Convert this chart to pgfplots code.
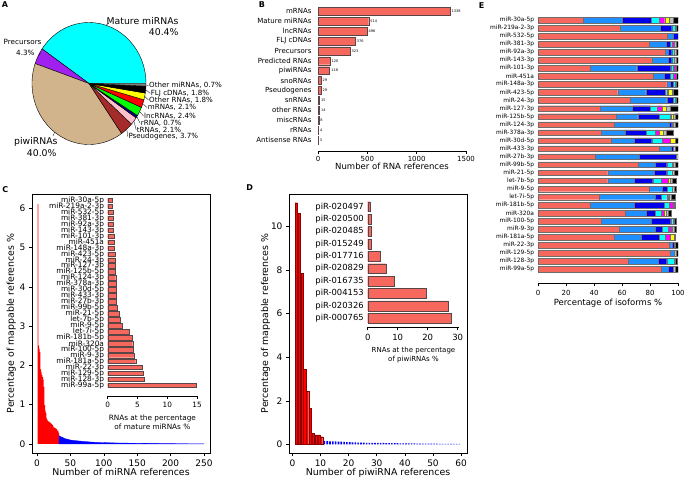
\documentclass[border=0pt]{standalone}
\usepackage{fontspec}
\setmainfont{DejaVu Sans}
\usepackage{pgfplots}
\usepackage{pgfplotstable}
\pgfplotsset{compat=1.18}
\newcommand{\fs}[1]{\fontsize{#1}{#1}\selectfont}
\definecolor{salmon}{RGB}{246,104,94}
\definecolor{baredge}{RGB}{90,70,70}
\definecolor{eedge}{RGB}{110,110,110}
\definecolor{piecyan}{RGB}{0,255,255}
\definecolor{piepurple}{RGB}{160,32,240}
\definecolor{pietan}{RGB}{210,180,140}
\definecolor{piebrown}{RGB}{165,42,42}
\definecolor{piepink}{RGB}{255,192,203}
\definecolor{pienavy}{RGB}{0,0,128}
\definecolor{piegreen}{RGB}{0,255,0}
\definecolor{piered}{RGB}{255,0,0}
\definecolor{pieyellow}{RGB}{255,255,0}
\definecolor{piegray}{RGB}{128,128,128}
\definecolor{edodger}{RGB}{30,144,255}
\definecolor{eblue}{RGB}{0,0,235}
\definecolor{ecyan}{RGB}{0,255,255}
\definecolor{emag}{RGB}{255,0,255}
\definecolor{eyel}{RGB}{255,255,0}
\definecolor{egray}{RGB}{190,190,190}
\pgfplotsset{
  every axis/.append style={scale only axis, anchor=south west,
    /pgf/number format/assume math mode=true, /pgf/number format/1000 sep={},
    tick align=outside, major tick length=3pt, axis line style={-},
    every tick/.style={black, line width=0.5pt}},
}
\pgfplotstableread{
y s1 s2 s3 s4 s5 s6 s7 s8
31 32 28 21 5.5 4 3.5 2.5 3.5
30 58.6 28.5 8.4 2.4 0 0 1 1.1
29 92.5 4 3.5 0 0 0 0 0
28 79.5 12 3 1.5 1 0 1.5 1.5
27 90.7 2.4 2.4 1.5 0 0 1.5 1.5
26 81.7 11.4 2.4 1.6 0 0 1.4 1.5
25 37.1 33.4 24.3 1.9 1 0 1 1.3
24 82.4 7.8 4.1 2.4 2.3 0 0 1
23 91.9 2.4 2.4 1 0 0 1 1.3
22 56.9 20 13.8 1.2 1.2 2.4 1.2 3.3
21 65.7 26.2 4.8 1 0 0 1 1.3
20 44.3 23.3 12.4 4.8 4 2.6 2.9 5.7
19 55.7 15.5 15.2 7.9 1 1 1.5 2.2
18 54.3 39.5 1.7 1.2 0 0 1.5 1.8
17 45 17.1 15 6.5 3.1 2.8 2 5
16 52.1 16.5 12.6 7.8 5.3 3.6 0 2.1
15 86.7 8.3 1.7 0 0 0 1.5 1.8
14 40.7 31.7 26.2 0 0 0 1.4 0
13 71.7 12.3 7.9 3.6 1.2 0 1.5 1.8
12 49.8 33.1 9 3.6 0 0 2 2.5
11 49.8 18.8 13.3 6.4 4.8 1.2 1.2 3
10 79.5 9.5 3.6 3.4 0 0 1.5 1.5
9 43.6 40 4.7 3.6 1.2 0.8 1.2 3
8 37.6 31.2 21.2 3.8 2.9 0 0.8 0.5
7 62.1 15 6.5 4.7 1.9 1.2 1.7 1.9
6 45 35.7 14.1 1.4 0 0 1.3 1.5
5 57.9 25.7 5.4 4.1 1.9 1 1 1.5
4 54.5 19.5 12.7 4 3.6 2.8 0.5 0.5
3 93.6 1.9 1.7 0 0 0 1 1.8
2 94.3 3.1 0 0 0 0 1 1.6
1 64.5 21.4 6 5.2 0 0 1 1.4
0 87.9 5.2 3.6 0 0 0 1.5 1.8
}\Edata
\begin{document}
\begin{tikzpicture}[x=1pt,y=1pt]
\useasboundingbox[fill=white] (0,0) rectangle (685,-478);
\coordinate (posB) at (318,-150.8);
\coordinate (posC) at (32,-453);
\coordinate (posCi) at (107.7,-395.7);
\coordinate (posD) at (289,-453);
\coordinate (posDi) at (367.7,-327.3);
\coordinate (posE) at (538,-283.3);
% panel letters
\node[font=\bfseries\fs{8}] at (5,-4.5) {A};
\node[font=\bfseries\fs{8}] at (262,-5) {B};
\node[font=\bfseries\fs{8}] at (5.3,-189.5) {C};
\node[font=\bfseries\fs{8}] at (249.7,-188) {D};
\node[font=\bfseries\fs{8}] at (481.5,-6) {E};
% ---------------- A: pie
\begin{scope}[shift={(89,-83.5)}]
\def\cum{0}
\foreach \v/\c in {40.4/piecyan,4.3/piepurple,40.0/pietan,3.7/piebrown,2.1/piepink,0.7/pienavy,2.4/piegreen,2.1/piered,1.8/pieyellow,1.8/black,0.7/piegray}{
  \pgfmathsetmacro{\a}{\cum*3.6}
  \pgfmathsetmacro{\b}{(\cum+\v)*3.6}
  \filldraw[fill=\c, draw=black, line width=0.4pt] (0,0) -- (\a:57 and 61) arc[start angle=\a, end angle=\b, x radius=57, y radius=61] -- cycle;
  \pgfmathsetmacro{\newcum}{\cum+\v}
  \global\let\cum\newcum
}
\end{scope}
\begin{scope}[line width=0.3pt]
\draw (106,-25.3) -- (109,-23);
\draw (38.1,-56) -- (40.5,-53);
\draw (54.6,-132.2) -- (53,-136);
\draw (146,-84.9) -- (148.5,-85.7);
\draw (145.7,-89.7) -- (150.2,-93.3);
\draw (144.7,-96.4) -- (148.5,-100);
\draw (142.8,-103.6) -- (147.2,-107.7);
\draw (139.6,-111.6) -- (143.5,-116);
\draw (136.8,-116.7) -- (140.2,-123.3);
\draw (133.9,-121.1) -- (136.2,-130);
\draw (126.8,-129.2) -- (127.8,-136.7);
\end{scope}
\node[font=\fs{9.3}, anchor=east] at (182,-21) {Mature miRNAs};
\node[font=\fs{9.3}, anchor=east] at (182,-32) {40.4\%};
\node[font=\fs{7.2}, anchor=east] at (45,-42) {Precursors};
\node[font=\fs{7.2}, anchor=east] at (38,-52.5) {4.3\%};
\node[font=\fs{9.3}, anchor=east] at (61,-142) {piwiRNAs};
\node[font=\fs{9.3}, anchor=east] at (60,-153) {40.0\%};
\begin{scope}[every node/.style={font=\fs{7.1}, anchor=west, inner sep=0pt}]
\node at (149,-85.7) {Other miRNAs, 0.7\%};
\node at (150.7,-93.3) {FLJ cDNAs, 1.8\%};
\node at (149,-100) {Other RNAs, 1.8\%};
\node at (147.7,-107.7) {mRNAs, 2.1\%};
\node at (144,-116) {lncRNAs, 2.4\%};
\node at (140.7,-123.3) {rRNA, 0.7\%};
\node at (136.7,-130) {tRNAs, 2.1\%};
\node at (128.3,-136.7) {Pseudogenes, 3.7\%};
\end{scope}
% ---------------- B
\begin{axis}[at={(posB)}, width=148pt, height=145.5pt,
  xmin=0, xmax=1500, ymin=-1.09, ymax=13.6,
  axis x line*=bottom, axis y line*=left, y axis line style={draw=none},
  xtick={0,500,1000,1500}, ytick={0,...,13}, ytick style={draw=none},
  yticklabels={Antisense RNAs,rRNAs,miscRNAs,other RNAs,snRNAs,Pseudogenes,snoRNAs,piwiRNAs,Predicted RNAs,Precursors,FLJ cDNAs,lncRNAs,Mature miRNAs,mRNAs},
  yticklabel style={font=\fs{7}},
  xticklabel style={font=\fs{7}, yshift=1.5pt},
  xlabel={Number of RNA references}, xlabel style={font=\fs{8.5}, yshift=5pt}]
\addplot[xbar, bar width=7.9pt, fill=salmon, draw=baredge, line width=0.4pt,
  point meta=x, nodes near coords,
  nodes near coords style={font=\fs{3.5}, anchor=west, inner sep=1.5pt}]
  coordinates {(3,0) (4,1) (8,2) (14,3) (15,4) (29,5) (29,6) (118,7) (120,8) (323,9) (376,10) (496,11) (514,12) (1338,13)};
\end{axis}
% ---------------- C main
\begin{axis}[at={(posC)}, width=178pt, height=259pt,
  xmin=-7.5, xmax=259, ymin=-0.23, ymax=6.36,
  xtick={0,50,...,250}, ytick={0,1,...,6}, tick pos=left,
  tick label style={font=\fs{9}},
  xlabel={Number of miRNA references}, ylabel={Percentage of mappable references \%},
  label style={font=\fs{9.4}}, xlabel style={yshift=4.5pt}, ylabel shift=-3pt]
\addplot[fill=red, draw=none, const plot] coordinates {
(1,6.1) (2,2.5) (3,2.42) (4,2.34) (5,1.9) (6,1.82) (7,1.76) (8,1.7) (9,1.64) (10,1.45)
(11,0.99) (12,0.85) (13,0.79) (14,0.65) (15,0.61) (16,0.59) (17,0.57) (18,0.57) (19,0.55) (20,0.53)
(21,0.51) (22,0.51) (23,0.48) (24,0.44) (25,0.42) (26,0.41) (27,0.40) (28,0.39) (29,0.38) (30,0.34)
(31,0.34) (32,0.29) (33,0.29)} \closedcycle;
\addplot[fill=blue, draw=blue, line width=0.3pt] coordinates {
(33,0.21) (34,0.2) (35,0.19) (36,0.18) (38,0.17) (40,0.15) (43,0.13) (46,0.12) (50,0.1) (55,0.09)
(60,0.08) (70,0.065) (80,0.05) (90,0.04) (100,0.035) (120,0.025) (140,0.02) (160,0.015) (180,0.012)
(200,0.009) (220,0.006) (240,0.004) (250,0.002)} \closedcycle;
\end{axis}
% ---------------- C inset
\begin{axis}[at={(posCi)}, width=89.4pt, height=198.4pt,
  xmin=0, xmax=15, ymin=-1.74, ymax=31.5,
  axis x line*=bottom, axis y line*=left, y axis line style={draw=none},
  ytick={0,...,31}, ytick style={draw=none},
  yticklabels={miR-99a-5p,miR-128-3p,miR-129-5p,miR-22-3p,miR-181a-5p,miR-9-3p,miR-100-5p,miR-320a,miR-181b-5p,let-7i-5p,miR-9-5p,let-7b-5p,miR-21-5p,miR-99b-5p,miR-27b-3p,miR-433-3p,miR-30d-5p,miR-378a-3p,miR-124-3p,miR-125b-5p,miR-127-3p,miR-24-3p,miR-423-5p,miR-148a-3p,miR-451a,miR-101-3p,miR-143-3p,miR-92a-3p,miR-381-3p,miR-532-5p,miR-219a-2-3p,miR-30a-5p},
  yticklabel style={font=\fs{7.4}, inner sep=0.5pt},
  xtick={0,5,10,15}, xticklabel style={font=\fs{7.3}},
  xlabel={RNAs at the percentage\\of mature miRNAs \%},
  xlabel style={font=\fontsize{7.3}{9}\selectfont, align=center}]
\addplot[xbar, bar width=4.5pt, fill=salmon, draw=baredge, line width=0.4pt] coordinates {
(14.8,0) (6.2,1) (6.0,2) (5.8,3) (4.7,4) (4.5,5) (4.35,6) (4.2,7) (4.05,8) (3.6,9)
(2.45,10) (2.1,11) (1.95,12) (1.6,13) (1.5,14) (1.45,15) (1.4,16) (1.4,17) (1.35,18) (1.3,19)
(1.25,20) (1.25,21) (1.2,22) (1.1,23) (1.05,24) (1.02,25) (1.0,26) (0.97,27) (0.95,28) (0.85,29)
(0.83,30) (0.72,31)};
\end{axis}
% ---------------- D main
\begin{axis}[at={(posD)}, width=178pt, height=259pt,
  xmin=-1.2, xmax=62.1, ymin=-0.4, ymax=11.5,
  xtick={0,10,...,60}, ytick={0,2,...,10}, tick pos=left,
  tick label style={font=\fs{9}},
  xlabel={Number of piwiRNA references}, ylabel={Percentage of mappable references \%},
  label style={font=\fs{9.4}}, xlabel style={yshift=4.5pt}, ylabel shift=-6pt]
\addplot[ybar, bar width=2.25pt, bar shift=1.1pt, fill=red, draw=red!55!black, line width=0.3pt] coordinates {
(1,11.1) (2,10.6) (3,7.85) (4,3.45) (5,2.42) (6,1.65) (7,0.5) (8,0.43) (9,0.43) (10,0.35)};
\addplot[ybar, bar width=1.6pt, bar shift=1.1pt, fill=blue, draw=none] coordinates {
(11,0.16) (12,0.15) (13,0.14) (14,0.14) (15,0.13) (16,0.12) (17,0.12) (18,0.11) (19,0.1) (20,0.1)
(21,0.09) (22,0.09) (23,0.08) (24,0.08) (25,0.08) (26,0.07) (27,0.07) (28,0.07) (29,0.06) (30,0.06)
(31,0.06) (32,0.06) (33,0.05) (34,0.05) (35,0.05) (36,0.05) (37,0.05) (38,0.04) (39,0.04) (40,0.04)
(41,0.04) (42,0.04) (43,0.04) (44,0.03) (45,0.03) (46,0.03) (47,0.03) (48,0.03) (49,0.03) (50,0.03)
(51,0.03) (52,0.02) (53,0.02) (54,0.02) (55,0.02) (56,0.02) (57,0.02) (58,0.02) (59,0.02)};
\end{axis}
% ---------------- D inset
\begin{axis}[at={(posDi)}, width=91.5pt, height=126.8pt,
  xmin=0, xmax=30.5, ymin=-0.73, ymax=9.5,
  axis x line*=bottom, axis y line*=left, y axis line style={draw=none},
  ytick={0,...,9}, ytick style={draw=none},
  yticklabels={piR-000765,piR-020326,piR-004153,piR-016735,piR-020829,piR-017716,piR-015249,piR-020485,piR-020500,piR-020497},
  yticklabel style={font=\fs{8.4}, inner sep=0.8pt},
  xtick={0,10,20,30}, xticklabel style={font=\fs{8.5}},
  xlabel={RNAs at the percentage\\of piwiRNAs \%},
  xlabel style={font=\fontsize{7}{9.5}\selectfont, align=center}]
\addplot[xbar, bar width=9.9pt, fill=salmon, draw=baredge, line width=0.4pt] coordinates {
(27.8,0) (26.7,1) (19.6,2) (8.7,3) (6.1,4) (4.1,5) (1.3,6) (1.1,7) (1.1,8) (0.8,9)};
\end{axis}
% ---------------- E
\begin{axis}[at={(posE)}, width=140pt, height=267.3pt,
  xmin=0, xmax=100, ymin=-1.74, ymax=31.5, xbar stacked, bar width=5.6pt,
  axis x line*=bottom, axis y line*=left, y axis line style={draw=none},
  ytick={0,...,31}, ytick style={draw=none},
  yticklabels={miR-99a-5p,miR-128-3p,miR-129-5p,miR-22-3p,miR-181a-5p,miR-9-3p,miR-100-5p,miR-320a,miR-181b-5p,let-7i-5p,miR-9-5p,let-7b-5p,miR-21-5p,miR-99b-5p,miR-27b-3p,miR-433-3p,miR-30d-5p,miR-378a-3p,miR-124-3p,miR-125b-5p,miR-127-3p,miR-24-3p,miR-423-5p,miR-148a-3p,miR-451a,miR-101-3p,miR-143-3p,miR-92a-3p,miR-381-3p,miR-532-5p,miR-219a-2-3p,miR-30a-5p},
  yticklabel style={font=\fs{5.9}, inner sep=0.8pt},
  xtick={0,20,...,100}, xticklabel style={font=\fs{7}},
  xlabel={Percentage of isoforms \%}, xlabel style={font=\fs{8.5}, yshift=2.5pt}]
\addplot[fill=salmon, draw=eedge, line width=0.3pt] table[x=s1,y=y]{\Edata};
\addplot[fill=edodger, draw=eedge, line width=0.3pt] table[x=s2,y=y]{\Edata};
\addplot[fill=eblue, draw=eedge, line width=0.3pt] table[x=s3,y=y]{\Edata};
\addplot[fill=ecyan, draw=eedge, line width=0.3pt] table[x=s4,y=y]{\Edata};
\addplot[fill=emag, draw=eedge, line width=0.3pt] table[x=s5,y=y]{\Edata};
\addplot[fill=eyel, draw=eedge, line width=0.3pt] table[x=s6,y=y]{\Edata};
\addplot[fill=egray, draw=eedge, line width=0.3pt] table[x=s7,y=y]{\Edata};
\addplot[fill=black, draw=eedge, line width=0.3pt] table[x=s8,y=y]{\Edata};
\end{axis}
\end{tikzpicture}
\end{document}
